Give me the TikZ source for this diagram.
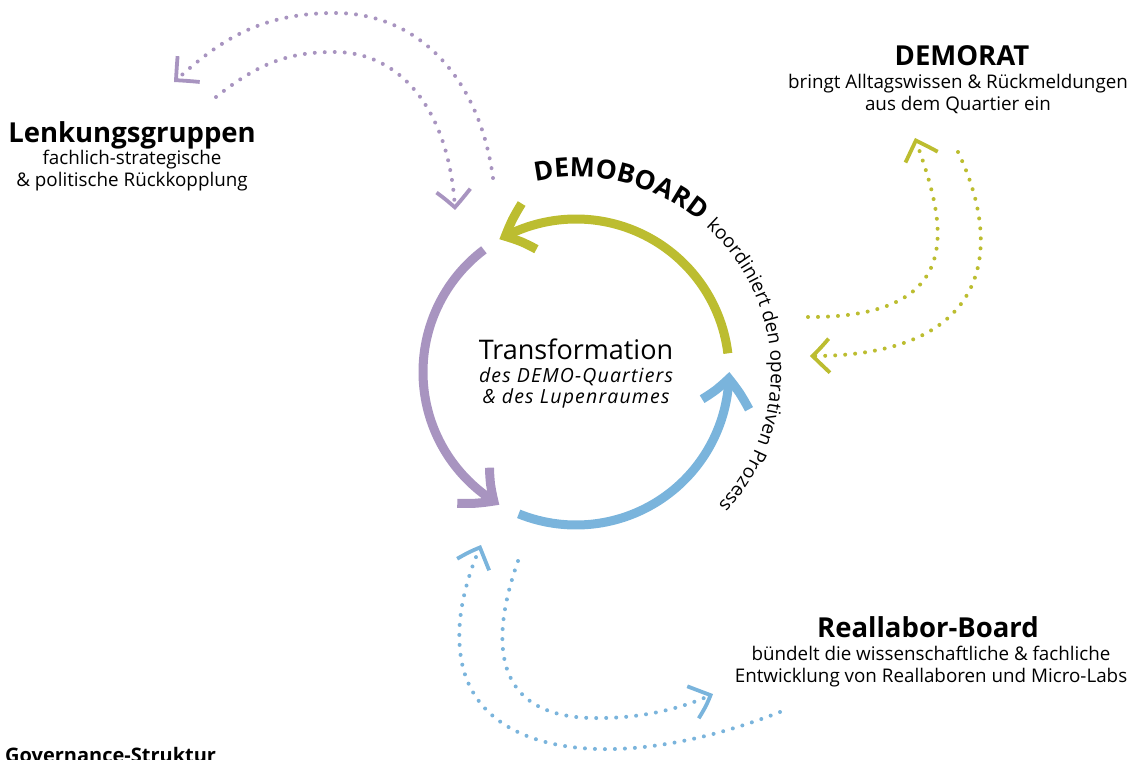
\documentclass[tikz,border=0pt]{standalone}
\usepackage{fontspec}
\usepackage{xcolor}
\setmainfont{Open Sans}
\usetikzlibrary{arrows.meta}
\usetikzlibrary{bending}
\usetikzlibrary{decorations.text}

\definecolor{demogreen}{HTML}{BCBD30}
\definecolor{demolila}{HTML}{A894C0}
\definecolor{demoblue}{HTML}{7AB4DC}

\begin{document}
\begin{tikzpicture}[x=1pt,y=1pt,
      title node/.style={font=\fontsize{27.5}{32}\selectfont\bfseries,inner sep=0pt,anchor=base},
      sub node/.style={font=\fontsize{18.8}{21.5}\selectfont,align=center,inner sep=0pt,anchor=base},
      ring arc/.style={line width=9pt,-{Straight Barb[length=26pt,width=48pt,bend]}},
      dot line/.style={line width=4pt,dash pattern=on 0pt off 10pt,line cap=round,
        -{Straight Barb[length=17pt,width=34pt,line width=3.8pt,bend]}}]
    \useasboundingbox (0,0) rectangle (1132,-760);

    % ring in the middle
    \coordinate (T) at (576,-372);
    \node[font=\fontsize{27}{30}\selectfont,inner sep=0pt,anchor=base] (trafo) at (576,-359) {Transformation};
    \node[sub node,font=\fontsize{19.5}{21}\itshape\addfontfeatures{LetterSpace=6}] (trafo sub) at (576,-403) {des DEMO-Quartiers\\\& des Lupenraumes};
    \draw[ring arc,demogreen] (T) ++(7:153) arc[start angle=7,end angle=120,radius=153];
    \draw[ring arc,demolila] (T) ++(127:153) arc[start angle=127,end angle=240,radius=153];
    \draw[ring arc,demoblue] (T) ++(248:153) arc[start angle=248,end angle=360,radius=153];
    \path[decorate,decoration={text along path,text align=left,
        text={|\fontsize{26.5}{26.5}\selectfont\bfseries\addfontfeatures{LetterSpace=4}|DEMOBOARD |\fontsize{19}{19}\selectfont|koordiniert den operativen Prozess}}]
      (T) ++(102:195) arc[start angle=102,end angle=-60,radius=195];

    % the three boards
    \node[title node] (lenk) at (132,-142) {Lenkungsgruppen};
    \node[sub node] (lenk sub) at (132,-186) {fachlich-strategische\\\& politische Rückkopplung};
    \node[title node] (rat) at (962,-66) {DEMORAT};
    \node[sub node] (rat sub) at (958,-110) {bringt Alltagswissen \& Rückmeldungen\\aus dem Quartier ein};
    \node[title node] (lab) at (928,-637) {Reallabor-Board};
    \node[sub node] (lab sub) at (931,-682) {bündelt die wissenschaftliche \& fachliche\\Entwicklung von Reallaboren und Micro-Labs};
    \node[font=\fontsize{20}{24}\selectfont\bfseries,inner sep=0pt,anchor=base west] (gov) at (5,-762) {Governance-Struktur};

    % feedback loops
    \coordinate (lenk a) at (493,-178);
    \coordinate (lenk b) at (174,-82);
    \coordinate (lenk c) at (216,-97);
    \coordinate (lenk d) at (455,-210);
    \draw[dot line,demolila] (lenk a) .. controls (480,-80) and (420,-13) .. (335,-13)
      .. controls (255,-13) and (215,-45) .. (lenk b);
    \draw[dot line,demolila] (lenk c) .. controls (260,-62) and (290,-52) .. (335,-52)
      .. controls (400,-52) and (450,-110) .. (lenk d);
    \coordinate (rat a) at (808,-317);
    \coordinate (rat b) at (915,-138);
    \coordinate (rat c) at (958,-152);
    \coordinate (rat d) at (810,-356);
    \draw[dot line,demogreen] (rat a) .. controls (980,-318) and (940,-210) .. (rat b);
    \draw[dot line,demogreen] (rat c) .. controls (1005,-250) and (990,-357) .. (rat d);
    \coordinate (lab a) at (780,-712);
    \coordinate (lab b) at (481,-545);
    \coordinate (lab c) at (518,-561);
    \coordinate (lab d) at (713,-694);
    \draw[dot line,demoblue] (lab a) .. controls (620,-775) and (470,-760) .. (460,-650)
      .. controls (456,-610) and (470,-570) .. (lab b);
    \draw[dot line,demoblue] (lab c) .. controls (490,-640) and (490,-720) .. (600,-718)
      .. controls (650,-718) and (690,-705) .. (lab d);
\end{tikzpicture}
\end{document}
